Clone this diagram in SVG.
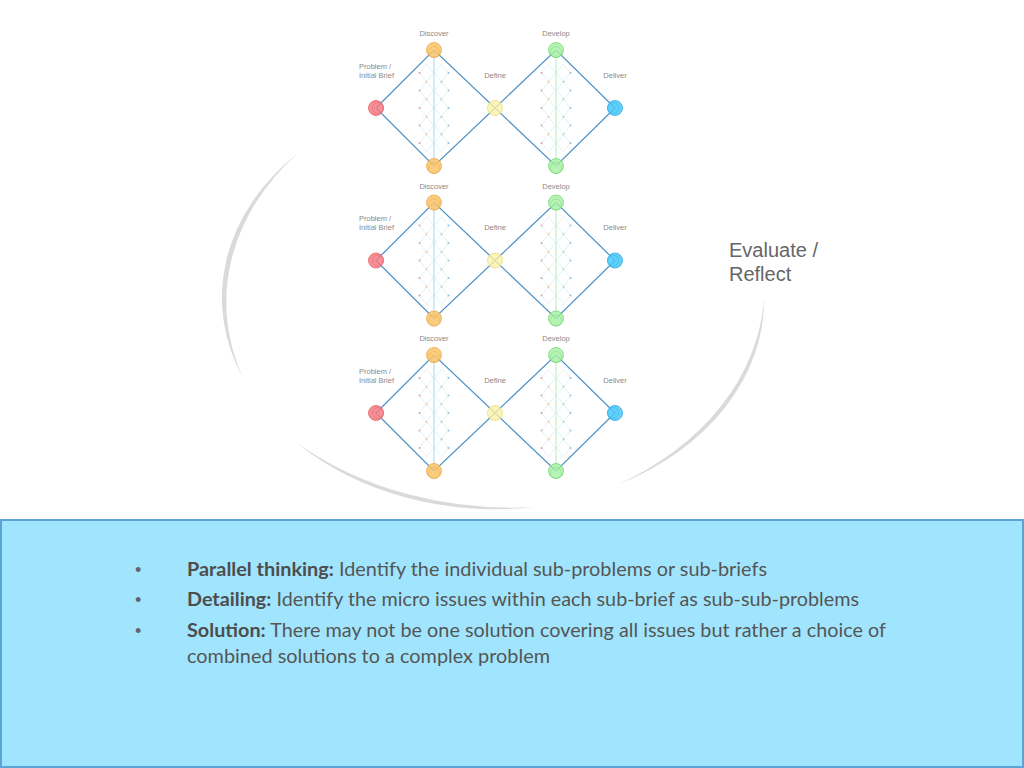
<svg xmlns="http://www.w3.org/2000/svg" width="1024" height="768" viewBox="0 0 1024 768">
<style>
.edge{stroke:#4b8fc4;stroke-width:1.2;fill:none}
.vo{stroke:#a8d7ec;stroke-width:1}
.vg{stroke:#b8ecbc;stroke-width:1}
.lbl{font-family:"Liberation Sans",Arial,sans-serif;font-size:7.5px;fill:#8a8a8a}
.c{text-anchor:middle}
.red{fill:#f47c82;fill-opacity:.85;stroke:#e2606a;stroke-width:.8}
.org{fill:#f9c468;fill-opacity:.85;stroke:#eda84a;stroke-width:.8}
.yel{fill:#fbf1a6;fill-opacity:.8;stroke:#eedc82;stroke-width:.8}
.grn{fill:#a6f0a2;fill-opacity:.8;stroke:#74d873;stroke-width:.8}
.blu{fill:#46c8f7;fill-opacity:.85;stroke:#2ea9e6;stroke-width:.8}
.in{fill:none;stroke-opacity:.55}
.arc{fill:#dadada}
.body{font-family:Lato,"Open Sans",sans-serif;font-size:19px;fill:#555}
.bul{font-family:"Liberation Sans",Arial,sans-serif;font-size:18px;fill:#666}
.b{font-weight:bold;fill:#4d4d4d}
</style>
<defs>
<g id="lat">
<path d="M-14.5 -35L-7.5 -43.75L-0.5 -35L-7.5 -26.25ZM-14.5 -17.5L-7.5 -26.25L-0.5 -17.5L-7.5 -8.75ZM-14.5 0L-7.5 -8.75L-0.5 0L-7.5 8.75ZM-14.5 17.5L-7.5 8.75L-0.5 17.5L-7.5 26.25ZM-14.5 35L-7.5 26.25L-0.5 35L-7.5 43.75Z" fill="none" stroke="#b4d8ec" stroke-width=".7" stroke-dasharray="1.2 1"/>
<path d="M0.5 -35L7.5 -43.75L14.5 -35L7.5 -26.25ZM0.5 -17.5L7.5 -26.25L14.5 -17.5L7.5 -8.75ZM0.5 0L7.5 -8.75L14.5 0L7.5 8.75ZM0.5 17.5L7.5 8.75L14.5 17.5L7.5 26.25ZM0.5 35L7.5 26.25L14.5 35L7.5 43.75Z" fill="none" stroke="#b4dce6" stroke-width=".7" stroke-dasharray="1.2 1"/>
<g fill="#ee9a9a"><circle cx="-14.5" cy="-35" r="1"/><circle cx="-14.5" cy="-17.5" r="1"/><circle cx="-14.5" cy="0" r="1"/><circle cx="-14.5" cy="17.5" r="1"/><circle cx="-14.5" cy="35" r="1"/></g>
<g fill="#8fc0e4"><circle cx="14.5" cy="-35" r="1"/><circle cx="14.5" cy="-17.5" r="1"/><circle cx="14.5" cy="0" r="1"/><circle cx="14.5" cy="17.5" r="1"/><circle cx="14.5" cy="35" r="1"/></g>
<g fill="#f2bf94"><circle cx="-7.5" cy="-26.25" r=".9"/><circle cx="-7.5" cy="-8.75" r=".9"/><circle cx="-7.5" cy="8.75" r=".9"/><circle cx="-7.5" cy="26.25" r=".9"/></g>
<g fill="#9ad8a6"><circle cx="7.5" cy="-26.25" r=".9"/><circle cx="7.5" cy="-8.75" r=".9"/><circle cx="7.5" cy="8.75" r=".9"/><circle cx="7.5" cy="26.25" r=".9"/></g>
</g>
</defs>
<rect width="1024" height="768" fill="#ffffff"/>

<g id="cycle-arcs">
<path class="arc" d="M298 153A271 208 0 0 0 243 378A300 230 0 0 1 298 153Z"/>
<path class="arc" d="M297 443A271 208 0 0 0 535 507A315 242 0 0 1 297 443Z"/>
<path class="arc" d="M764 298A271 208 0 0 1 617 485A300 230 0 0 0 764 298Z"/>
</g>
<text id="evaluate" font-family="Liberation Sans,Arial,sans-serif" font-size="20" fill="#666"><tspan x="729" y="257">Evaluate /</tspan><tspan x="729" y="281">Reflect</tspan></text>

<g id="lattices">
<use href="#lat" x="434" y="108"/><use href="#lat" x="556" y="108"/>
<use href="#lat" x="434" y="260.5"/><use href="#lat" x="556" y="260.5"/>
<use href="#lat" x="434" y="413"/><use href="#lat" x="556" y="413"/>
</g>

<g id="connectors">
<g id="conn-1">
<path class="edge" d="M376 108L434 50L495 108L556 50L615 108L556 166L495 108L434 166Z"/>
<line class="vo" x1="434" y1="50" x2="434" y2="166"/>
<line class="vg" x1="556" y1="50" x2="556" y2="166"/>
</g>
<g id="conn-2" transform="translate(0,152.5)">
<path class="edge" d="M376 108L434 50L495 108L556 50L615 108L556 166L495 108L434 166Z"/>
<line class="vo" x1="434" y1="50" x2="434" y2="166"/>
<line class="vg" x1="556" y1="50" x2="556" y2="166"/>
</g>
<g id="conn-3" transform="translate(0,305)">
<path class="edge" d="M376 108L434 50L495 108L556 50L615 108L556 166L495 108L434 166Z"/>
<line class="vo" x1="434" y1="50" x2="434" y2="166"/>
<line class="vg" x1="556" y1="50" x2="556" y2="166"/>
</g>
</g>

<g id="unit-1">
<g id="problem-1"><circle class="red" cx="376" cy="108" r="7.5"/><circle class="red in" cx="378" cy="108" r="5.5"/><text class="lbl" x="359" y="68.5">Problem  /</text><text class="lbl" x="359" y="77.5">Initial Brief</text></g>
<g id="discover-1"><circle class="org" cx="434" cy="50" r="7.5"/><circle class="org in" cx="434" cy="52" r="5.5"/><text class="lbl c" x="434" y="36">Discover</text></g>
<g id="discover-end-1"><circle class="org" cx="434" cy="166" r="7.5"/><circle class="org in" cx="434" cy="168" r="5.5"/></g>
<g id="define-1"><circle class="yel" cx="495" cy="108" r="7.5"/><text class="lbl c" x="495" y="77.5">Define</text></g>
<g id="develop-1"><circle class="grn" cx="556" cy="50" r="7.5"/><circle class="grn in" cx="556" cy="52" r="5.5"/><text class="lbl c" x="556" y="36">Develop</text></g>
<g id="develop-end-1"><circle class="grn" cx="556" cy="166" r="7.5"/><circle class="grn in" cx="556" cy="168" r="5.5"/></g>
<g id="deliver-1"><circle class="blu" cx="615" cy="108" r="7.5"/><circle class="blu in" cx="613" cy="108" r="5.5"/><text class="lbl c" x="615" y="77.5">Deliver</text></g>
</g>

<g id="unit-2" transform="translate(0,152.5)">
<g id="problem-2"><circle class="red" cx="376" cy="108" r="7.5"/><circle class="red in" cx="378" cy="108" r="5.5"/><text class="lbl" x="359" y="68.5">Problem  /</text><text class="lbl" x="359" y="77.5">Initial Brief</text></g>
<g id="discover-2"><circle class="org" cx="434" cy="50" r="7.5"/><circle class="org in" cx="434" cy="52" r="5.5"/><text class="lbl c" x="434" y="36">Discover</text></g>
<g id="discover-end-2"><circle class="org" cx="434" cy="166" r="7.5"/><circle class="org in" cx="434" cy="168" r="5.5"/></g>
<g id="define-2"><circle class="yel" cx="495" cy="108" r="7.5"/><text class="lbl c" x="495" y="77.5">Define</text></g>
<g id="develop-2"><circle class="grn" cx="556" cy="50" r="7.5"/><circle class="grn in" cx="556" cy="52" r="5.5"/><text class="lbl c" x="556" y="36">Develop</text></g>
<g id="develop-end-2"><circle class="grn" cx="556" cy="166" r="7.5"/><circle class="grn in" cx="556" cy="168" r="5.5"/></g>
<g id="deliver-2"><circle class="blu" cx="615" cy="108" r="7.5"/><circle class="blu in" cx="613" cy="108" r="5.5"/><text class="lbl c" x="615" y="77.5">Deliver</text></g>
</g>

<g id="unit-3" transform="translate(0,305)">
<g id="problem-3"><circle class="red" cx="376" cy="108" r="7.5"/><circle class="red in" cx="378" cy="108" r="5.5"/><text class="lbl" x="359" y="68.5">Problem  /</text><text class="lbl" x="359" y="77.5">Initial Brief</text></g>
<g id="discover-3"><circle class="org" cx="434" cy="50" r="7.5"/><circle class="org in" cx="434" cy="52" r="5.5"/><text class="lbl c" x="434" y="36">Discover</text></g>
<g id="discover-end-3"><circle class="org" cx="434" cy="166" r="7.5"/><circle class="org in" cx="434" cy="168" r="5.5"/></g>
<g id="define-3"><circle class="yel" cx="495" cy="108" r="7.5"/><text class="lbl c" x="495" y="77.5">Define</text></g>
<g id="develop-3"><circle class="grn" cx="556" cy="50" r="7.5"/><circle class="grn in" cx="556" cy="52" r="5.5"/><text class="lbl c" x="556" y="36">Develop</text></g>
<g id="develop-end-3"><circle class="grn" cx="556" cy="166" r="7.5"/><circle class="grn in" cx="556" cy="168" r="5.5"/></g>
<g id="deliver-3"><circle class="blu" cx="615" cy="108" r="7.5"/><circle class="blu in" cx="613" cy="108" r="5.5"/><text class="lbl c" x="615" y="77.5">Deliver</text></g>
</g>

<g id="notes">
<rect x="1" y="520" width="1022" height="247" fill="#a0e5fd" stroke="#5ba4d8" stroke-width="2"/>
<text class="bul" x="135" y="576">•</text>
<text class="bul" x="135" y="606">•</text>
<text class="bul" x="135" y="637">•</text>
<text class="body" x="187" y="576" textLength="580" lengthAdjust="spacingAndGlyphs"><tspan class="b">Parallel thinking:</tspan> Identify the individual sub-problems or sub-briefs</text>
<text class="body" x="187" y="606" textLength="672" lengthAdjust="spacingAndGlyphs"><tspan class="b">Detailing:</tspan> Identify the micro issues within each sub-brief as sub-sub-problems</text>
<text class="body" x="187" y="637" textLength="699" lengthAdjust="spacingAndGlyphs"><tspan class="b">Solution:</tspan> There may not be one solution covering all issues but rather a choice of</text>
<text class="body" x="187" y="663" textLength="363" lengthAdjust="spacingAndGlyphs">combined solutions to a complex problem</text>
</g>
</svg>
